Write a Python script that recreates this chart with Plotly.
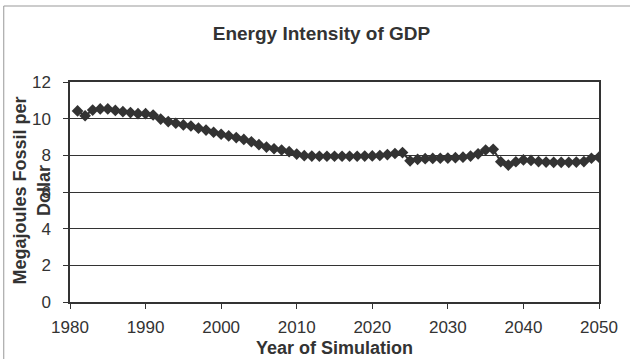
import plotly.graph_objects as go

years = list(range(1981, 2051))
intensity = [
    10.42, 10.16, 10.47, 10.53, 10.53, 10.45, 10.38, 10.33, 10.27, 10.27,
    10.20, 9.98, 9.84, 9.75, 9.66, 9.60, 9.48, 9.38, 9.26, 9.15,
    9.06, 8.97, 8.87, 8.74, 8.58, 8.45, 8.36, 8.29, 8.20, 8.07,
    7.98, 7.96, 7.95, 7.95, 7.95, 7.95, 7.95, 7.95, 7.96, 7.97,
    7.99, 8.04, 8.10, 8.15, 7.70, 7.78, 7.82, 7.83, 7.84, 7.85,
    7.87, 7.90, 7.96, 8.08, 8.29, 8.33, 7.65, 7.47, 7.65, 7.75,
    7.72, 7.66, 7.63, 7.62, 7.62, 7.62, 7.63, 7.66, 7.84, 7.90,
]
x_ticks = [1980, 1990, 2000, 2010, 2020, 2030, 2040, 2050]
y_ticks = [0, 2, 4, 6, 8, 10, 12]

ink = "#333333"
font = "Liberation Sans, Arial, sans-serif"

fig = go.Figure()
fig.add_trace(go.Scatter(
    x=years, y=intensity, mode="lines+markers",
    line=dict(color=ink, width=2),
    marker=dict(symbol="diamond", size=9, color=ink),
    showlegend=False,
))

fig.update_layout(
    width=630, height=359,
    margin=dict(l=70, r=25, t=82, b=57),
    paper_bgcolor="white", plot_bgcolor="white",
    font=dict(family=font, color=ink),
    title=dict(text="<b>Energy Intensity of GDP</b>", x=321.5 / 630, xanchor="center",
               y=1 - 33 / 359, yanchor="middle", yref="container",
               font=dict(size=19, color=ink, family=font)),
    xaxis=dict(range=[1980, 2050], tickvals=x_ticks, ticks="outside", ticklen=5,
               tickcolor=ink, showline=True, linecolor=ink, linewidth=1.5, mirror=True,
               showgrid=False, zeroline=False, tickfont=dict(size=17, color=ink),
               ticklabelstandoff=4),
    yaxis=dict(range=[0, 12], tickvals=y_ticks, ticks="outside", ticklen=5,
               tickcolor=ink, showline=True, linecolor=ink, linewidth=1.5, mirror=True,
               showgrid=True, gridcolor=ink, gridwidth=1, zeroline=False,
               tickfont=dict(size=17, color=ink), ticklabelstandoff=9),
    annotations=[
        dict(text="<b>Megajoules Fossil per<br>Dollar</b>", textangle=-90,
             xref="paper", yref="paper", x=(31 - 70) / 535, y=(302 - 190) / 220,
             xanchor="center", yanchor="middle", showarrow=False,
             font=dict(size=18, color=ink, family=font)),
        dict(text="<b>Year of Simulation</b>",
             xref="paper", yref="paper", x=(338 - 70) / 535, y=(302 - 348) / 220,
             xanchor="center", yanchor="middle", showarrow=False,
             font=dict(size=18, color=ink, family=font)),
    ],
    shapes=[dict(type="rect", xref="paper", yref="paper",
                 x0=(3 - 70) / 535, x1=(640 - 70) / 535,
                 y0=(302 - 370) / 220, y1=(302 - 6) / 220,
                 line=dict(color="#999999", width=1))],
)

fig.write_html("out.html")
